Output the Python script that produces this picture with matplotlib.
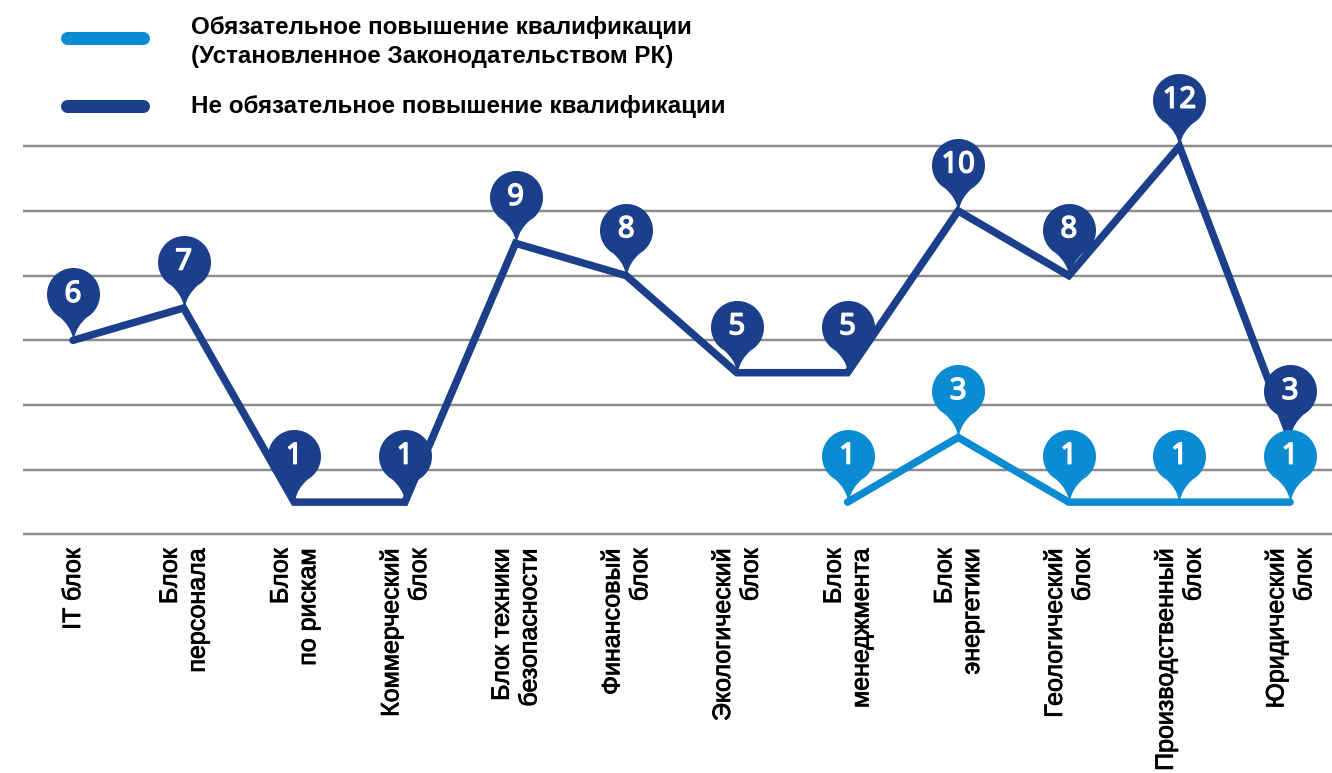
import numpy as np
import matplotlib
matplotlib.use("Agg")
import matplotlib.pyplot as plt
from matplotlib.path import Path
from matplotlib.lines import Line2D
import matplotlib.patheffects as pe

categories = ["IT блок", "Блок\nперсонала", "Блок\nпо рискам", "Коммерческий\nблок",
              "Блок техники\nбезопасности", "Финансовый\nблок", "Экологический\nблок",
              "Блок\nменеджмента", "Блок\nэнергетики", "Геологический\nблок",
              "Производственный\nблок", "Юридический\nблок"]
optional_vals = [6, 7, 1, 1, 9, 8, 5, 5, 10, 8, 12, 3]
mandatory_idx = [7, 8, 9, 10, 11]
mandatory_vals = [1, 3, 1, 1, 1]

legend_mandatory = ["Обязательное повышение квалификации", "(Установленное Законодательством РК)"]
legend_optional = "Не обязательное повышение квалификации"

DARK = "#1B3F8B"
LIGHT = "#0A8BD2"
GRID = "#8E8E8E"
DPI = 100
PX = 72 / DPI  # points per pixel


def pin_path(r=26.5, cy=46.0):
    # map pin, tip at (0, 0), units are pixels
    ang = np.deg2rad(np.linspace(-60, 240, 80))
    arc = np.column_stack([r * np.cos(ang), cy + r * np.sin(ang)])
    verts = [(0.8, 3.0), (3.0, 14.0), tuple(arc[0])]
    codes = [Path.MOVETO, Path.CURVE3, Path.CURVE3]
    for p in arc[1:]:
        verts.append(tuple(p))
        codes.append(Path.LINETO)
    verts += [(-3.0, 14.0), (-0.8, 3.0), (0.8, 3.0)]
    codes += [Path.CURVE3, Path.CURVE3, Path.CLOSEPOLY]
    return Path(verts, codes), cy, cy + r


plt.rcParams['font.family'] = ['Liberation Sans', 'DejaVu Sans']

fig = plt.figure(figsize=(13.32, 7.73), dpi=DPI)
ax = fig.add_axes([23 / 1332, 1 - 544.2 / 773, 1309 / 1332, (544.2 - 65.3) / 773])
ax.set_facecolor('none')

x = np.arange(len(categories))
ax.plot(x, optional_vals, color=DARK, lw=7.5 * PX, solid_joinstyle='miter',
        solid_capstyle='round', zorder=3)
ax.plot(mandatory_idx, mandatory_vals, color=LIGHT, lw=7.5 * PX, solid_joinstyle='miter',
        solid_capstyle='round', zorder=4)

pin, cy, top = pin_path()
msize = 2 * top * PX
ax.plot(x, optional_vals, ls='none', marker=pin, markersize=msize, color=DARK,
        markeredgewidth=0, zorder=5, clip_on=False)
ax.plot(mandatory_idx, mandatory_vals, ls='none', marker=pin, markersize=msize, color=LIGHT,
        markeredgewidth=0, zorder=7, clip_on=False)

num_font = dict(ha='center', va='center', color='white', fontsize=21,
                family=['Noto Sans', 'DejaVu Sans'],
                path_effects=[pe.withStroke(linewidth=1.1, foreground='white')])
for xi, v in zip(x, optional_vals):
    ax.annotate(str(v), (xi, v), xytext=(0, cy * PX), textcoords='offset points',
                zorder=6, **num_font)
for xi, v in zip(mandatory_idx, mandatory_vals):
    ax.annotate(str(v), (xi, v), xytext=(0, cy * PX), textcoords='offset points',
                zorder=8, **num_font)

ax.set_xlim(-0.452, 11.379)
ax.set_ylim(-0.3, 14.5)
ax.set_yticks([0, 2, 4, 6, 8, 10, 12])
ax.set_yticklabels([])
ax.grid(axis='y', color=GRID, lw=2.5 * PX)
ax.set_axisbelow(True)
ax.set_xticks(x)
ax.set_xticklabels(categories, rotation=90, ha='center', va='top',
                   multialignment='right', fontsize=18)
for lbl in ax.get_xticklabels():
    lbl.set_path_effects([pe.withStroke(linewidth=0.6, foreground='black')])
ax.tick_params(length=0, pad=3)
for s in ax.spines.values():
    s.set_visible(False)

# legend
fig.add_artist(Line2D([66.5 / 1332, 142.5 / 1332], [1 - 38 / 773] * 2, color=LIGHT,
                      lw=13 * PX, solid_capstyle='round', transform=fig.transFigure))
fig.add_artist(Line2D([66.5 / 1332, 142.5 / 1332], [1 - 106 / 773] * 2, color=DARK,
                      lw=13 * PX, solid_capstyle='round', transform=fig.transFigure))
leg_font = dict(fontsize=17.4, weight='bold', va='baseline', ha='left')
fig.text(191 / 1332, 1 - 34 / 773, legend_mandatory[0], **leg_font)
fig.text(191 / 1332, 1 - 63 / 773, legend_mandatory[1], **leg_font)
fig.text(191 / 1332, 1 - 113 / 773, legend_optional, **leg_font)

fig.savefig("out.png", dpi=DPI)
